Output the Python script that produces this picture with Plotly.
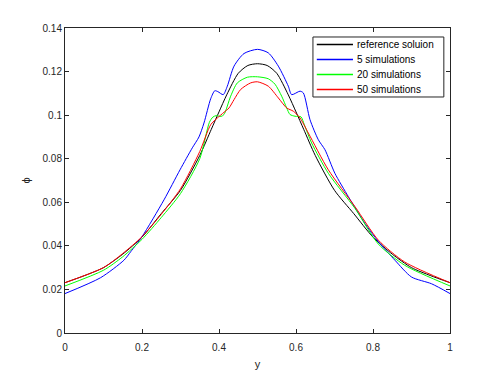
import plotly.graph_objects as go

# reference solution (black)
ref_x = [0, 0.05, 0.1, 0.15, 0.2, 0.25, 0.3, 0.35, 0.38, 0.4, 0.42, 0.45, 0.475, 0.5,
         0.525, 0.55, 0.58, 0.6, 0.62, 0.65, 0.7, 0.75, 0.8, 0.85, 0.9, 0.95, 1.0]
ref_y = [0.0231, 0.0263, 0.0300, 0.0362, 0.0440, 0.0548, 0.0655, 0.0815, 0.0935, 0.1015,
         0.1093, 0.1192, 0.1228, 0.1236,
         0.1228, 0.1192, 0.1093, 0.1015, 0.0935, 0.0815, 0.0655, 0.0548, 0.0440, 0.0362,
         0.0300, 0.0263, 0.0231]

# 5 simulations (blue)
s5_x = [0, 0.0926, 0.153, 0.1706, 0.2, 0.2571, 0.2987, 0.3307, 0.348, 0.361, 0.3784,
        0.389, 0.397, 0.411, 0.4216, 0.439, 0.465, 0.5,
        0.528, 0.5541, 0.58, 0.5887, 0.6104, 0.619, 0.6364, 0.658, 0.6753, 0.701,
        0.736, 0.779, 0.814, 0.857, 0.9, 0.952, 1.0]
s5_y = [0.0181, 0.0254, 0.0334, 0.0373, 0.0442, 0.0611, 0.0749, 0.0850, 0.0900, 0.0964,
        0.1075, 0.1112, 0.1108, 0.1094, 0.1133, 0.1225, 0.1283, 0.1302,
        0.1286, 0.1225, 0.1133, 0.1094, 0.1110, 0.1102, 0.0979, 0.0887, 0.0841, 0.0733,
        0.0626, 0.0503, 0.0419, 0.0334, 0.0257, 0.0226, 0.0181]

# 20 simulations (green)
s20_x = [0, 0.1, 0.15, 0.2, 0.25, 0.3, 0.35, 0.375, 0.384, 0.393, 0.405, 0.413, 0.4303,
         0.4476, 0.4736, 0.5,
         0.528, 0.5455, 0.5628, 0.5758, 0.5844, 0.5974, 0.613, 0.6216, 0.6407, 0.684,
         0.7532, 0.814, 0.8823, 1.0]
s20_y = [0.0216, 0.0288, 0.0350, 0.0430, 0.0530, 0.0640, 0.0800, 0.0967, 0.0991, 0.0998,
         0.0994, 0.1003, 0.1087, 0.1148, 0.1174, 0.1176,
         0.1167, 0.1142, 0.1087, 0.1033, 0.1003, 0.0995, 0.0992, 0.0956, 0.0872, 0.0733,
         0.0572, 0.0408, 0.0311, 0.0216]

# 50 simulations (red)
s50_x = [0, 0.1, 0.15, 0.2, 0.25, 0.3, 0.35, 0.3784, 0.3957, 0.413, 0.426, 0.439,
         0.4563, 0.4822, 0.5,
         0.528, 0.5541, 0.5758, 0.5931, 0.6104, 0.632, 0.684, 0.7532, 0.814, 0.8823, 1.0]
s50_y = [0.0231, 0.0300, 0.0365, 0.0442, 0.0545, 0.0662, 0.0833, 0.0956, 0.0987, 0.1013,
         0.1033, 0.1071, 0.1118, 0.1148, 0.1153,
         0.1133, 0.1079, 0.1033, 0.1018, 0.0987, 0.0918, 0.0749, 0.0580, 0.0426, 0.0326,
         0.0231]

series = [
    ("reference soluion", ref_x, ref_y, "#000000"),
    ("5 simulations", s5_x, s5_y, "#0000ff"),
    ("20 simulations", s20_x, s20_y, "#00ff00"),
    ("50 simulations", s50_x, s50_y, "#ff0000"),
]

x_ticks = [0, 0.2, 0.4, 0.6, 0.8, 1]
y_ticks = [0, 0.02, 0.04, 0.06, 0.08, 0.1, 0.12, 0.14]

fig = go.Figure()
for name, xs, ys, color in series:
    fig.add_trace(go.Scatter(
        x=xs, y=ys, mode="lines", name=name, showlegend=False,
        line=dict(color=color, width=1, shape="spline", smoothing=0.7),
    ))

# MATLAB-like legend box drawn by hand (plotly's rows are too tall)
leg_x0, leg_x1 = 0.644, 0.984
leg_top, leg_bot = 0.9705, 0.7738
row_h = (leg_top - leg_bot) / 4
fig.add_shape(type="rect", xref="paper", yref="paper", x0=leg_x0, x1=leg_x1,
              y0=leg_bot, y1=leg_top, line=dict(color="#262626", width=1),
              fillcolor="white", layer="above")
for i, (name, _, _, color) in enumerate(series):
    yy = leg_top - row_h * (i + 0.5)
    fig.add_shape(type="line", xref="paper", yref="paper", x0=leg_x0 + 0.01, x1=leg_x0 + 0.104,
                  y0=yy, y1=yy, line=dict(color=color, width=1.5), layer="above")
    fig.add_annotation(xref="paper", yref="paper", x=leg_x0 + 0.108, y=yy, text=name,
                       showarrow=False, xanchor="left", yanchor="middle",
                       font=dict(size=10, color="#000000"))

axis_style = dict(
    showline=True, linecolor="#262626", linewidth=1, mirror="ticks", automargin=False,
    ticks="inside", ticklen=4, tickcolor="#262626", showgrid=False, zeroline=False,
    tickfont=dict(size=10, color="#262626"),
)

# page body has an 8px margin, so the figure is a bit smaller than the window
fig.update_layout(
    width=490, height=366,
    margin=dict(l=57, r=48, t=20, b=41),
    paper_bgcolor="white", plot_bgcolor="white",
    font=dict(family="Liberation Sans, Arial, sans-serif", size=10, color="#262626"),
    xaxis=dict(range=[0, 1], tickvals=x_ticks, ticktext=["0", "0.2", "0.4", "0.6", "0.8", "1"],
               ticklabelstandoff=5,
               title=dict(text="y", standoff=8, font=dict(size=11)), **axis_style),
    yaxis=dict(range=[0, 0.14], tickvals=y_ticks,
               ticktext=["0", "0.02", "0.04", "0.06", "0.08", "0.1", "0.12", "0.14"],
               title=dict(text="ϕ", standoff=9, font=dict(size=11)), **axis_style),
)

fig.write_html("out.html")
